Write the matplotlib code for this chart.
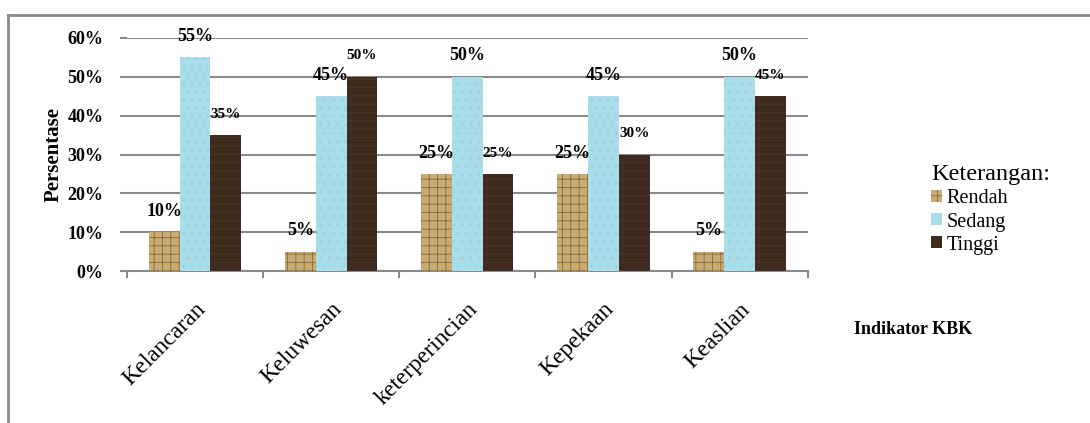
import matplotlib.pyplot as plt
import numpy as np
from matplotlib.lines import Line2D
from matplotlib.patches import Patch

plt.rcParams['font.family'] = ['Liberation Serif', 'DejaVu Serif']
plt.rcParams['hatch.linewidth'] = 0.6

# Data (percent)
categories = ['Kelancaran', 'Keluwesan', 'keterperincian', 'Kepekaan', 'Keaslian']
rendah = [10, 5, 25, 25, 5]
sedang = [55, 45, 50, 45, 50]
tinggi = [35, 50, 25, 30, 45]
series_names = ['Rendah', 'Sedang', 'Tinggi']
yticks = [0, 10, 20, 30, 40, 50, 60]

fig = plt.figure(figsize=(10.9, 4.23), dpi=100)
ax = fig.add_axes([0.1165, 0.3593, 0.6245, 0.5509])

grid_col = '#8a8a8a'
x = np.arange(len(categories))
w = 0.226

b1 = ax.bar(x - w, rendah, w, color='#c9ab74', edgecolor='#8a6a3a',
            hatch='++', linewidth=0, zorder=3)
b2 = ax.bar(x, sedang, w, color='#a9dde9', edgecolor='#97d0df',
            hatch='..', linewidth=0, zorder=3)
b3 = ax.bar(x + w, tinggi, w, color='#3f2b1d', edgecolor='#4f3828',
            hatch='--', linewidth=0, zorder=3)

# data labels
for bars, vals, fs in [(b1, rendah, 13), (b2, sedang, 13), (b3, tinggi, 11)]:
    for rect, v in zip(bars, vals):
        ax.annotate(f'{v}%', (rect.get_x() + rect.get_width() / 2, v),
                    xytext=(0, 15), textcoords='offset points',
                    ha='center', va='center', fontsize=fs, fontweight='bold')

ax.set_ylim(0, 60)
ax.set_xlim(-0.5, 4.5)
ax.set_yticks(yticks)
ax.set_yticklabels([f'{t}%' for t in yticks], fontsize=13, fontweight='bold')
ax.yaxis.grid(True, color=grid_col, linewidth=1.5, zorder=0)
ax.set_axisbelow(True)

ax.set_xticks(x)
ax.set_xticklabels(categories, rotation=45, ha='right', rotation_mode='anchor',
                   fontsize=17)
ax.tick_params(axis='x', which='major', length=0, pad=20)
ax.set_xticks(np.arange(-0.5, 5, 1), minor=True)
ax.tick_params(axis='x', which='minor', length=5, color=grid_col, width=1.5)
ax.tick_params(axis='y', length=5, color=grid_col, width=1.5, pad=12)

for side in ['top', 'right', 'left']:
    ax.spines[side].set_visible(False)
ax.spines['bottom'].set_color(grid_col)
ax.spines['bottom'].set_linewidth(1.5)

ax.set_ylabel('Persentase', fontsize=15, fontweight='bold', labelpad=3)
fig.text(0.838, 0.222, 'Indikator KBK', fontsize=13, fontweight='bold',
         ha='center', va='center')

handles = [Patch(facecolor='#c9ab74', edgecolor='#8a6a3a', hatch='++', linewidth=0),
           Patch(facecolor='#a9dde9', linewidth=0),
           Patch(facecolor='#3f2b1d', linewidth=0)]
leg = fig.legend(handles, series_names, title='Keterangan:', loc='upper left',
                 bbox_to_anchor=(0.845, 0.635), frameon=False, fontsize=14.5,
                 title_fontsize=17.5, handlelength=0.55, handleheight=0.55,
                 handletextpad=0.2, labelspacing=0.2, borderpad=0,
                 alignment='left')

# outer chart frame (cut off at right and bottom)
fig.add_artist(Line2D([8 / 1090, 1], [1 - 15 / 423] * 2, color='#8a8a8a',
                      linewidth=2, transform=fig.transFigure))
fig.add_artist(Line2D([8 / 1090] * 2, [0, 1 - 15 / 423], color='#8a8a8a',
                      linewidth=2, transform=fig.transFigure))

fig.savefig('out.png', dpi=100)
